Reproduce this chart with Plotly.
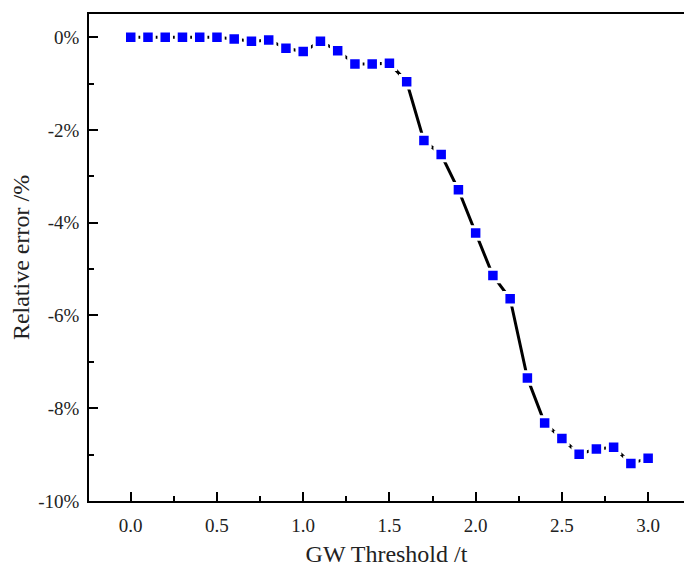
import plotly.graph_objects as go

threshold = [0.0, 0.1, 0.2, 0.3, 0.4, 0.5, 0.6, 0.7, 0.8, 0.9, 1.0,
             1.1, 1.2, 1.3, 1.4, 1.5, 1.6, 1.7, 1.8, 1.9, 2.0,
             2.1, 2.2, 2.3, 2.4, 2.5, 2.6, 2.7, 2.8, 2.9, 3.0]
rel_error = [0.0, 0.0, 0.0, 0.0, 0.0, 0.0, -0.04, -0.09, -0.06, -0.24, -0.31,
             -0.09, -0.29, -0.58, -0.58, -0.56, -0.96, -2.23, -2.53, -3.29, -4.22,
             -5.14, -5.64, -7.35, -8.32, -8.65, -8.99, -8.88, -8.84, -9.19, -9.08]

y_tickvals = [0, -2, -4, -6, -8, -10]
y_ticktext = ["0%", "-2%", "-4%", "-6%", "-8%", "-10%"]
x_tickvals = [0.0, 0.5, 1.0, 1.5, 2.0, 2.5, 3.0]
x_ticktext = ["0.0", "0.5", "1.0", "1.5", "2.0", "2.5", "3.0"]

FONT = "Liberation Serif, Times New Roman, serif"

fig = go.Figure()
fig.add_trace(go.Scatter(
    x=threshold, y=rel_error, mode="lines+markers",
    line=dict(color="black", width=3),
    marker=dict(symbol="square", size=12.5, color="#0000FF",
                line=dict(color="white", width=3)),
    showlegend=False,
))

fig.update_layout(
    width=684, height=567,
    margin=dict(l=89, r=0, t=14, b=66),
    paper_bgcolor="white", plot_bgcolor="white",
    font=dict(family=FONT, color="#222222", size=19),
)
fig.update_xaxes(
    range=[-0.242, 3.208], tickvals=x_tickvals, ticktext=x_ticktext,
    ticks="inside", ticklen=9, tickwidth=1.6, tickcolor="black",
    minor=dict(ticks="inside", ticklen=5, tickwidth=1.6, tickcolor="black", dtick=0.25, tick0=0),
    showline=True, linecolor="black", linewidth=1.8, mirror=True,
    showgrid=False, zeroline=False, automargin=False,
    ticklabelstandoff=6,
    tickfont=dict(family=FONT, size=19),
    title=dict(text="GW Threshold /t", font=dict(size=24, family=FONT), standoff=12),
)
fig.update_yaxes(
    range=[-10, 0.5], tickvals=y_tickvals, ticktext=y_ticktext,
    ticks="inside", ticklen=9, tickwidth=1.6, tickcolor="black",
    minor=dict(ticks="inside", ticklen=5, tickwidth=1.6, tickcolor="black", dtick=1, tick0=0),
    showline=True, linecolor="black", linewidth=1.8,
    showgrid=False, zeroline=False, automargin=False,
    ticklabelstandoff=4,
    tickfont=dict(family=FONT, size=19),
    title=dict(text="Relative error /%", font=dict(size=24, family=FONT), standoff=2),
)

fig.write_html(
    "out.html",
    config={"displayModeBar": False},
    post_script="document.documentElement.style.margin='0';document.body.style.margin='0';document.body.style.overflow='hidden';",
)
